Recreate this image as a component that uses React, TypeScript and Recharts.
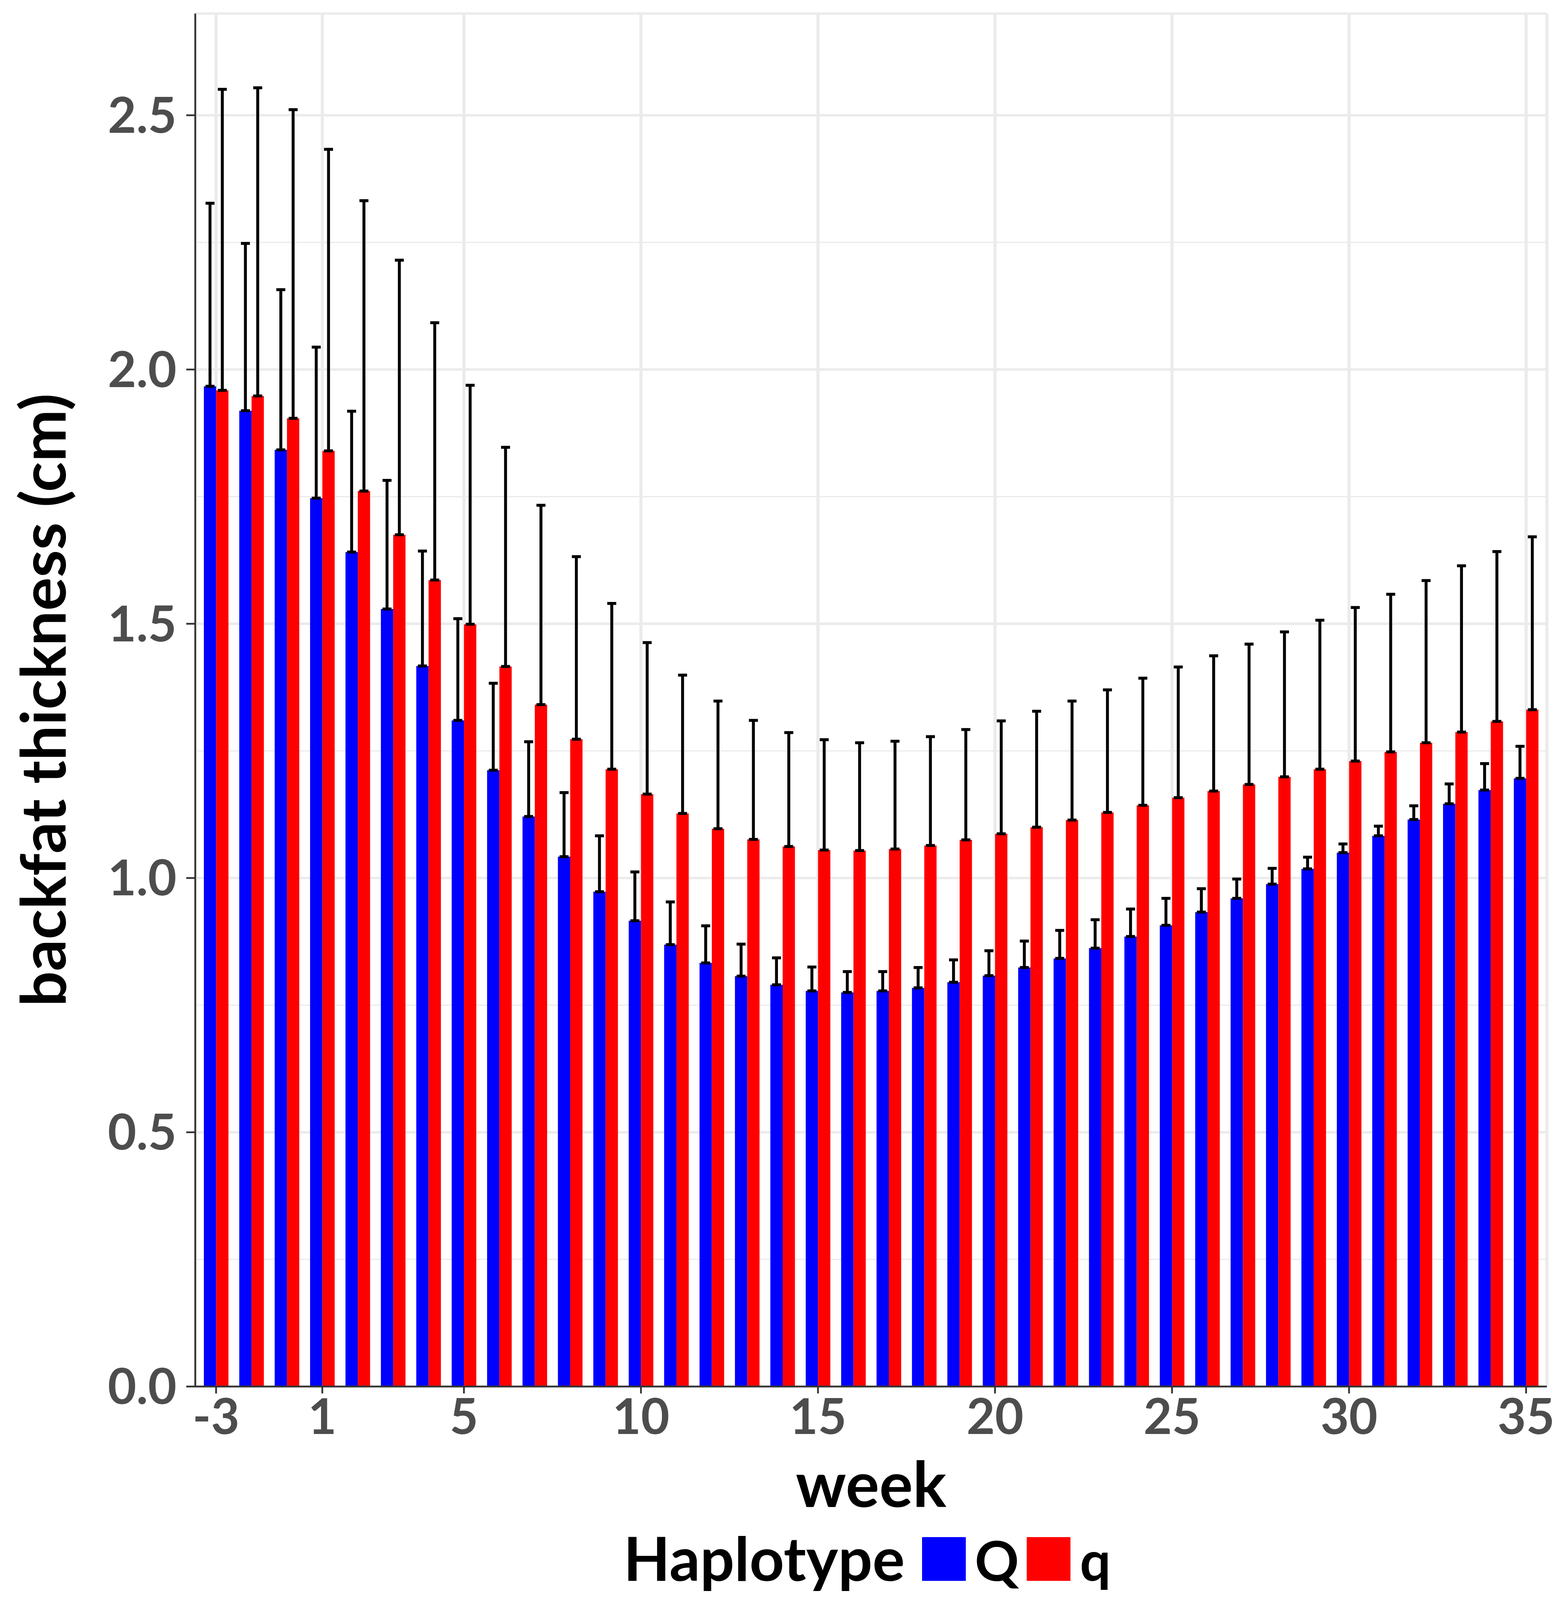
import { Fragment } from "react";
import {
  Bar,
  BarChart,
  CartesianGrid,
  ErrorBar,
  Label,
  Legend,
  XAxis,
  YAxis,
} from "recharts";

// week -3 .. 35, there is no week 0
const weeks = [
  -3, -2, -1, 1, 2, 3, 4, 5, 6, 7, 8, 9, 10, 11, 12, 13, 14, 15, 16, 17, 18,
  19, 20, 21, 22, 23, 24, 25, 26, 27, 28, 29, 30, 31, 32, 33, 34, 35,
];

// haplotype Q: mean backfat thickness and sd (cm)
const meanQ = [
  1.967, 1.919, 1.842, 1.747, 1.641, 1.529, 1.417, 1.31, 1.212, 1.121, 1.042,
  0.973, 0.916, 0.869, 0.833, 0.807, 0.79, 0.778, 0.775, 0.778, 0.784, 0.795,
  0.808, 0.824, 0.842, 0.862, 0.885, 0.907, 0.933, 0.96, 0.988, 1.018, 1.05,
  1.083, 1.115, 1.146, 1.173, 1.196,
];
const sdQ = [
  0.36, 0.329, 0.315, 0.297, 0.277, 0.253, 0.226, 0.2, 0.171, 0.147, 0.126,
  0.11, 0.096, 0.084, 0.073, 0.063, 0.053, 0.047, 0.041, 0.038, 0.04, 0.044,
  0.049, 0.052, 0.055, 0.056, 0.054, 0.053, 0.046, 0.038, 0.031, 0.023, 0.017,
  0.019, 0.027, 0.039, 0.052, 0.063,
];

// haplotype q
const meanq = [
  1.959, 1.948, 1.904, 1.84, 1.761, 1.675, 1.586, 1.499, 1.416, 1.341, 1.273,
  1.214, 1.165, 1.127, 1.097, 1.076, 1.062, 1.055, 1.054, 1.057, 1.064, 1.075,
  1.087, 1.1, 1.114, 1.129, 1.143, 1.158, 1.171, 1.184, 1.199, 1.214, 1.23,
  1.248, 1.266, 1.287, 1.308, 1.331,
];
const sdq = [
  0.592, 0.606, 0.607, 0.593, 0.571, 0.54, 0.506, 0.47, 0.431, 0.392, 0.359,
  0.326, 0.298, 0.272, 0.251, 0.234, 0.224, 0.217, 0.212, 0.212, 0.214, 0.217,
  0.222, 0.228, 0.234, 0.241, 0.25, 0.257, 0.266, 0.276, 0.285, 0.293, 0.302,
  0.31, 0.319, 0.327, 0.334, 0.34,
];

const weekTicks = [-3, 1, 5, 10, 15, 20, 25, 30, 35];
const yTicks = [0, 0.5, 1, 1.5, 2, 2.5];
const yMinorTicks = [0.25, 0.75, 1.25, 1.75, 2.25];

const chartData = weeks.map((week, i) => ({
  week,
  Q: meanQ[i],
  q: meanq[i],
  errQ: [0, sdQ[i]],
  errq: [0, sdq[i]],
}));

const FONT = "Lato, 'Open Sans', sans-serif";
const BORDER = "#333333";
const GRID = "#EBEBEB";

const WIDTH = 4015;
const DESIGN_HEIGHT = 5314;

// Lato vertical metrics (em units)
const ASC = 0.987;
const DESC = 0.213;

export default function App() {
  // the browser window can be shorter than the design height, so the
  // vertical layout follows the real viewport
  const viewH =
    typeof window !== "undefined" && window.innerHeight > 0
      ? window.innerHeight
      : DESIGN_HEIGHT;
  const height = Math.min(viewH, DESIGN_HEIGHT);
  const k = height / DESIGN_HEIGHT;
  const s = Math.pow(k, 2 / 3);

  const tickFont = Math.round(150 * s);
  const weekFont = Math.round(192 * s);
  const yTitleFont = Math.round(190 * s);
  const legendTitleFont = Math.round(184 * s);
  const legendItemFont = Math.round(166 * s);
  const keySize = Math.round(133 * s);

  const marginTop = 45 * k;
  const axisY = 4605 * k;
  const xTickSize = 23 * k;
  const xTickMargin = 18 * k;

  // stack the texts under the plot so their boxes do not collide
  const tickBaseline = axisY + xTickSize + xTickMargin + 0.71 * tickFont;
  const weekBaseline = Math.max(
    4935 * k,
    tickBaseline + DESC * tickFont + ASC * weekFont + 2
  );
  const legendTop = weekBaseline + DESC * weekFont + 1;
  const legendBaseline = Math.max(
    5215 * k,
    legendTop + ASC * legendTitleFont + 1
  );
  const xAxisHeight = legendTop - axisY;
  const legendHeight = height - legendTop;

  const tickStyle = {
    fill: "#4D4D4D",
    fontSize: tickFont,
    fontWeight: 700,
    fontFamily: FONT,
  };

  const weekTitle = (props: any) => {
    const vb = props.viewBox;
    return (
      <text
        x={vb.x + vb.width / 2}
        y={vb.y + (weekBaseline - axisY)}
        textAnchor="middle"
        fontSize={weekFont}
        fontWeight={700}
        fontFamily={FONT}
        fill="#000000"
      >
        week
      </text>
    );
  };

  const thicknessTitle = (props: any) => {
    const vb = props.viewBox;
    const x = vb.x + 109 + 0.37 * yTitleFont;
    const y = vb.y + vb.height / 2;
    return (
      <text
        x={x}
        y={y}
        transform={`rotate(-90 ${x} ${y})`}
        textAnchor="middle"
        fontSize={yTitleFont}
        fontWeight={700}
        fontFamily={FONT}
        fill="#000000"
      >
        backfat thickness (cm)
      </text>
    );
  };

  const haplotypeLegend = ({ payload }: any) => (
    <div
      style={{
        display: "flex",
        alignItems: "baseline",
        justifyContent: "center",
        marginTop: legendBaseline - legendTop - (ASC - 0.1) * legendTitleFont,
        fontFamily: FONT,
        fontWeight: 700,
        color: "#000000",
      }}
    >
      <span
        style={{
          fontSize: legendTitleFont,
          lineHeight: 1,
          marginRight: 52 * s,
        }}
      >
        Haplotype
      </span>
      {(payload || []).map((entry: any) => (
        <Fragment key={entry.value}>
          <span
            style={{
              display: "inline-block",
              width: keySize,
              height: keySize,
              background: entry.color,
              marginRight: 28 * s,
            }}
          />
          <span
            style={{
              fontSize: legendItemFont,
              lineHeight: 1,
              marginRight: 24 * s,
            }}
          >
            {entry.value}
          </span>
        </Fragment>
      ))}
    </div>
  );

  return (
    <div
      style={{
        position: "absolute",
        left: 0,
        top: 0,
        width: WIDTH,
        height,
        overflow: "hidden",
        background: "#ffffff",
      }}
    >
      <BarChart
        width={WIDTH}
        height={height}
        data={chartData}
        margin={{ top: marginTop, right: 54, bottom: 0, left: 0 }}
        barGap={0}
        barSize={31.5}
        style={{ fontFamily: FONT }}
      >
        <CartesianGrid
          horizontalValues={yMinorTicks}
          vertical={false}
          stroke={GRID}
          strokeWidth={4 * k}
        />
        <CartesianGrid vertical={false} stroke={GRID} strokeWidth={8 * k} />
        <CartesianGrid horizontal={false} stroke={GRID} strokeWidth={8} />
        <XAxis
          dataKey="week"
          ticks={weekTicks}
          interval={0}
          height={xAxisHeight}
          padding={{ left: 8, right: 8 }}
          tick={tickStyle}
          tickSize={xTickSize}
          tickMargin={xTickMargin}
          tickLine={{ stroke: BORDER, strokeWidth: 4.5 }}
          axisLine={{ stroke: BORDER, strokeWidth: 4.5 }}
        >
          <Label content={weekTitle} />
        </XAxis>
        <XAxis
          xAxisId="top"
          dataKey="week"
          orientation="top"
          height={0}
          tick={false}
          tickLine={false}
          axisLine={{ stroke: BORDER, strokeWidth: 4.5 }}
        />
        <YAxis
          domain={[0, 2.7]}
          ticks={yTicks}
          interval={0}
          width={500}
          tickFormatter={(v: number) => v.toFixed(1)}
          tick={tickStyle}
          tickSize={23}
          tickMargin={25}
          tickLine={{ stroke: BORDER, strokeWidth: 4.5 }}
          axisLine={{ stroke: BORDER, strokeWidth: 4.5 }}
        >
          <Label content={thicknessTitle} />
        </YAxis>
        <YAxis
          yAxisId="right"
          orientation="right"
          domain={[0, 2.7]}
          width={0}
          tick={false}
          tickLine={false}
          axisLine={{ stroke: BORDER, strokeWidth: 4.5 }}
        />
        <Legend
          verticalAlign="bottom"
          content={haplotypeLegend}
          wrapperStyle={{ left: 500, width: 3461, height: legendHeight }}
        />
        <Bar dataKey="Q" name="Q" fill="#0000FF" isAnimationActive={false}>
          <ErrorBar
            dataKey="errQ"
            direction="y"
            width={11.5}
            strokeWidth={7.5}
            stroke="#000000"
            isAnimationActive={false}
          />
        </Bar>
        <Bar dataKey="q" name="q" fill="#FF0000" isAnimationActive={false}>
          <ErrorBar
            dataKey="errq"
            direction="y"
            width={11.5}
            strokeWidth={7.5}
            stroke="#000000"
            isAnimationActive={false}
          />
        </Bar>
      </BarChart>
    </div>
  );
}
